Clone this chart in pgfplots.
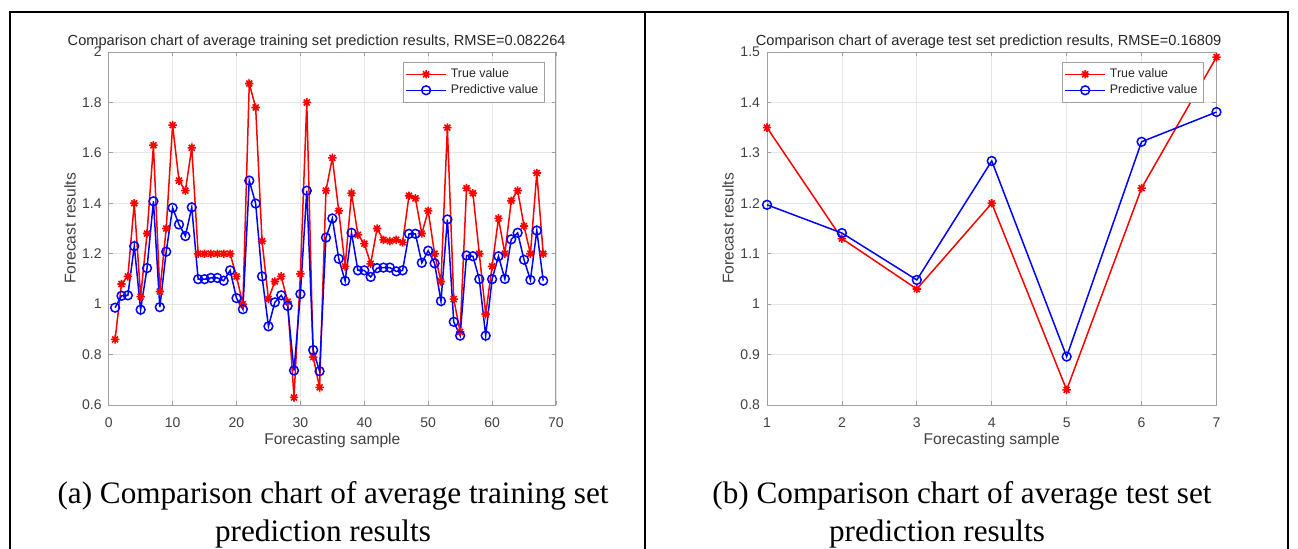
\documentclass[border=0pt]{standalone}
\usepackage{fontspec}
\setmainfont{Liberation Serif}
\newfontfamily\arialfont{Liberation Sans}
\usepackage{pgfplots}
\usepackage{pgfplotstable}
\pgfplotsset{compat=1.18}
\definecolor{axgray}{HTML}{A0A0A0}
\definecolor{grgray}{HTML}{E6E6E6}
\definecolor{txgray}{HTML}{404040}

\pgfdeclareplotmark{mstar}{%
  \pgfpathmoveto{\pgfqpoint{-\pgfplotmarksize}{0pt}}\pgfpathlineto{\pgfqpoint{\pgfplotmarksize}{0pt}}%
  \pgfpathmoveto{\pgfqpoint{0pt}{-\pgfplotmarksize}}\pgfpathlineto{\pgfqpoint{0pt}{\pgfplotmarksize}}%
  \pgfpathmoveto{\pgfqpoint{-0.707\pgfplotmarksize}{-0.707\pgfplotmarksize}}\pgfpathlineto{\pgfqpoint{0.707\pgfplotmarksize}{0.707\pgfplotmarksize}}%
  \pgfpathmoveto{\pgfqpoint{-0.707\pgfplotmarksize}{0.707\pgfplotmarksize}}\pgfpathlineto{\pgfqpoint{0.707\pgfplotmarksize}{-0.707\pgfplotmarksize}}%
  \pgfusepathqstroke}

\pgfplotstableread{
x true pred
1 0.86 0.986
2 1.08 1.033
3 1.11 1.035
4 1.40 1.23
5 1.03 0.978
6 1.28 1.143
7 1.63 1.408
8 1.05 0.988
9 1.30 1.208
10 1.71 1.382
11 1.49 1.316
12 1.45 1.27
13 1.62 1.384
14 1.20 1.099
15 1.20 1.099
16 1.20 1.104
17 1.20 1.104
18 1.20 1.093
19 1.20 1.134
20 1.11 1.024
21 1.00 0.98
22 1.875 1.49
23 1.78 1.399
24 1.25 1.11
25 1.02 0.912
26 1.09 1.007
27 1.11 1.035
28 1.01 0.993
29 0.63 0.737
30 1.12 1.04
31 1.80 1.45
32 0.79 0.818
33 0.67 0.734
34 1.45 1.264
35 1.58 1.34
36 1.37 1.18
37 1.15 1.092
38 1.44 1.283
39 1.275 1.134
40 1.24 1.134
41 1.16 1.108
42 1.30 1.143
43 1.255 1.145
44 1.25 1.145
45 1.255 1.13
46 1.245 1.134
47 1.43 1.279
48 1.42 1.279
49 1.28 1.164
50 1.37 1.212
51 1.20 1.162
52 1.09 1.012
53 1.70 1.336
54 1.02 0.93
55 0.89 0.875
56 1.46 1.193
57 1.44 1.19
58 1.20 1.099
59 0.96 0.875
60 1.15 1.099
61 1.34 1.19
62 1.20 1.10
63 1.41 1.257
64 1.45 1.283
65 1.31 1.176
66 1.20 1.096
67 1.52 1.292
68 1.20 1.093
}\traindata

\pgfplotstableread{
x true pred
1 1.35 1.197
2 1.13 1.141
3 1.03 1.048
4 1.20 1.284
5 0.83 0.896
6 1.23 1.322
7 1.49 1.381
}\testdata

\pgfplotsset{
  mstyle/.style={
    scale only axis,
    height=176.5pt,
    axis line style={axgray, line width=0.5pt},
    every tick/.style={axgray, line width=0.4pt},
    major tick length=2pt,
    tick align=inside,
    grid=major,
    grid style={grgray, line width=0.4pt},
    /pgf/number format/assume math mode=true,
    tick label style={font=\arialfont\fontsize{7}{8}\selectfont, text=txgray},
    xticklabel style={yshift=-3pt},
    label style={font=\arialfont\fontsize{7.8}{9}\selectfont, text=txgray},
    title style={font=\arialfont\fontsize{7.3}{8.5}\selectfont, anchor=base, text=black!85, yshift=-6pt},
    xlabel style={at={(axis description cs:0.5,-0.113)}, anchor=base},
    ylabel style={at={(axis description cs:-0.0866,0.5)}, anchor=center},
    legend style={anchor=north east, draw=axgray, fill=white,
      font=\arialfont\fontsize{6.2}{7}\selectfont, text=black!85,
      inner sep=1pt, row sep=-2pt,
      /tikz/every even column/.append style={column sep=2pt}},
    legend cell align=left,
    legend image code/.code={\draw[mark repeat=2, mark phase=2, #1] plot coordinates {(0pt,0pt)(10pt,0pt)(20pt,0pt)};},
    truestyle/.style={red, line width=0.75pt, mark=mstar, mark size=2.1pt, mark options={line width=0.8pt, solid}},
    predstyle/.style={blue, line width=0.75pt, mark=o, mark size=2.2pt, mark options={line width=0.75pt, solid}},
  }
}

\begin{document}
\begin{tikzpicture}
\useasboundingbox (0,0) rectangle (649pt,274pt);

% table frame
\draw[line width=1.1pt] (5pt,268pt) -- (644pt,268pt);
\draw[line width=1.1pt] (5pt,268.5pt) -- (5pt,-1pt);
\draw[line width=1.1pt] (322.5pt,268.5pt) -- (322.5pt,-1pt);
\draw[line width=1.1pt] (644pt,268.5pt) -- (644pt,-1pt);

% left chart
\begin{axis}[mstyle,
  at={(54.35pt,71.5pt)}, anchor=south west,
  width=223.65pt,
  xmin=0, xmax=70, ymin=0.6, ymax=2,
  xtick={0,10,20,30,40,50,60,70},
  ytick={0.6,0.8,1,1.2,1.4,1.6,1.8,2},
  title={Comparison chart of average training set prediction results, RMSE=0.082264},
  title style={at={(axis description cs:0.465,1.0178)}},
  xlabel={Forecasting sample},
  ylabel={Forecast results},
  legend style={at={(axis description cs:0.975,0.972)}},
]
\addplot[truestyle] table[x=x, y=true] {\traindata};
\addlegendentry{True value}
\addplot[predstyle] table[x=x, y=pred] {\traindata};
\addlegendentry{Predictive value}
\end{axis}

% right chart
\begin{axis}[mstyle,
  at={(383.5pt,71.5pt)}, anchor=south west,
  width=224.75pt,
  xmin=1, xmax=7, ymin=0.8, ymax=1.5,
  xtick={1,2,3,4,5,6,7},
  ytick={0.8,0.9,1,1.1,1.2,1.3,1.4,1.5},
  title={Comparison chart of average test set prediction results, RMSE=0.16809},
  title style={at={(axis description cs:0.493,1.0178)}},
  xlabel={Forecasting sample},
  ylabel={Forecast results},
  legend style={at={(axis description cs:0.972,0.972)}},
  clip=false,
]
\addplot[truestyle] table[x=x, y=true] {\testdata};
\addlegendentry{True value}
\addplot[predstyle] table[x=x, y=pred] {\testdata};
\addlegendentry{Predictive value}
\end{axis}

% captions
\node[anchor=base, font=\fontsize{15.6}{18}\selectfont, inner sep=0pt] at (166.5pt,22.5pt) {(a) Comparison chart of average training set};
\node[anchor=base, font=\fontsize{15.6}{18}\selectfont, inner sep=0pt] at (161.5pt,3.5pt) {prediction results};
\node[anchor=base, font=\fontsize{15.6}{18}\selectfont, inner sep=0pt] at (481pt,22.5pt) {(b) Comparison chart of average test set};
\node[anchor=base, font=\fontsize{15.6}{18}\selectfont, inner sep=0pt] at (468.5pt,3.5pt) {prediction results};
\end{tikzpicture}
\end{document}
